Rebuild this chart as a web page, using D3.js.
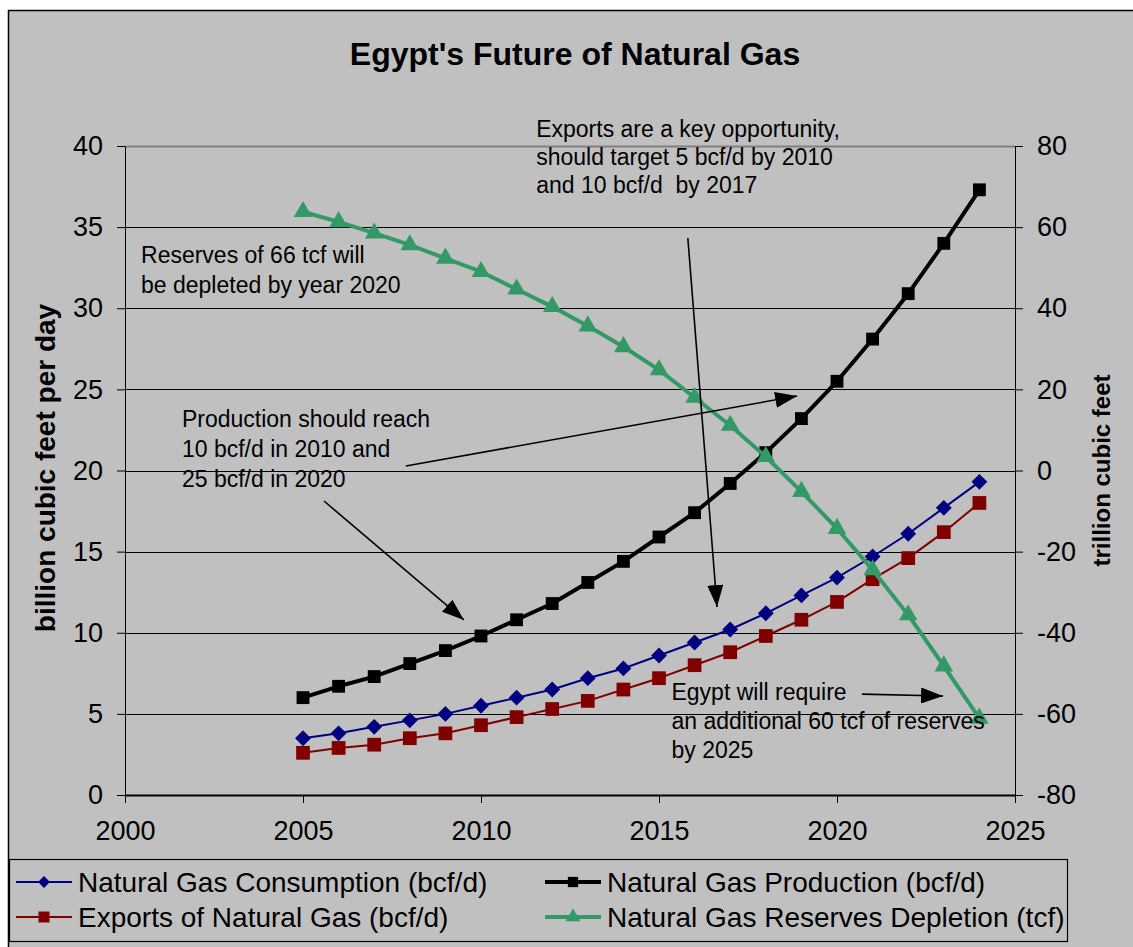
<!DOCTYPE html>
<html>
<head>
<meta charset="utf-8">
<script src="https://cdn.jsdelivr.net/npm/d3@7"></script>
<style>
  html, body { margin: 0; padding: 0; background: #ffffff; }
  svg { display: block; font-family: Arial, "Liberation Sans", sans-serif; }
</style>
</head>
<body>
<svg id="chart" width="1133" height="947"></svg>
<script>
// Years on the horizontal axis
const years = [2005, 2006, 2007, 2008, 2009, 2010, 2011, 2012, 2013, 2014,
               2015, 2016, 2017, 2018, 2019, 2020, 2021, 2022, 2023, 2024];

// Left axis series (bcf/d)
const consumption = [3.5, 3.8, 4.2, 4.6, 5.0, 5.5, 6.0, 6.5, 7.2, 7.8,
                     8.6, 9.4, 10.2, 11.2, 12.3, 13.4, 14.7, 16.1, 17.7, 19.3];
const production  = [6.0, 6.7, 7.3, 8.1, 8.9, 9.8, 10.8, 11.8, 13.1, 14.4,
                     15.9, 17.4, 19.2, 21.1, 23.2, 25.5, 28.1, 30.9, 34.0, 37.3];
const exportsGas  = [2.6, 2.9, 3.1, 3.5, 3.8, 4.3, 4.8, 5.3, 5.8, 6.5,
                     7.2, 8.0, 8.8, 9.8, 10.8, 11.9, 13.3, 14.6, 16.2, 18.0];

// Right axis series (tcf)
const reserves    = [63.8, 61.3, 58.5, 55.6, 52.3, 49.0, 44.7, 40.4, 35.6, 30.5,
                     24.8, 18.0, 11.1, 3.4, -5.2, -14.3, -24.5, -35.6, -48.2, -61.1];

// Tick labels
const xTicks = [2000, 2005, 2010, 2015, 2020, 2025];
const yLeftTicks = [0, 5, 10, 15, 20, 25, 30, 35, 40];
const yRightTicks = [-80, -60, -40, -20, 0, 20, 40, 60, 80];

// Legend names
const seriesNames = [
  "Natural Gas Consumption (bcf/d)",
  "Natural Gas Production (bcf/d)",
  "Exports of Natural Gas (bcf/d)",
  "Natural Gas Reserves Depletion (tcf)"
];

const titleText = "Egypt's Future of Natural Gas";
const leftAxisTitle = "billion cubic feet per day";
const rightAxisTitle = "trillion cubic feet";

// Callouts: first baseline anchored in data space (year, bcf/d)
const notes = [
  { x: 2011.55, y: 40.55, lines: ["Exports are a key opportunity,", "should target 5 bcf/d by 2010", "and 10 bcf/d  by 2017"] },
  { x: 2000.45, y: 32.8,  lines: ["Reserves of 66 tcf will", "be depleted by year 2020"] },
  { x: 2001.6,  y: 22.68, lines: ["Production should reach", "10 bcf/d in 2010 and", "25 bcf/d in 2020"] },
  { x: 2015.35, y: 5.85,  lines: ["Egypt will require", "an additional 60 tcf of reserves", "by 2025"] }
];
// Arrows from tail to tip, in (year, bcf/d)
const arrows = [
  { from: [2015.81, 34.33], to: [2016.63, 11.59] },
  { from: [2007.89, 20.28], to: [2018.88, 24.59] },
  { from: [2005.59, 18.12], to: [2009.52, 10.79] },
  { from: [2020.70, 6.22],  to: [2022.98, 6.10] }
];

const svg = d3.select("#chart");
const W = 1133, H = 947;

// Chart area background and frame
svg.append("rect")
  .attr("x", 8.5).attr("y", 10.5)
  .attr("width", W + 20).attr("height", H + 20)
  .attr("fill", "#c0c0c0")
  .attr("stroke", "#000").attr("stroke-width", 1.5);

const plot = { left: 125, right: 1015, top: 146, bottom: 795 };

const x = d3.scaleLinear().domain([2000, 2025]).range([plot.left, plot.right]);
const yL = d3.scaleLinear().domain([0, 40]).range([plot.bottom, plot.top]);
const yR = d3.scaleLinear().domain([-80, 80]).range([plot.bottom, plot.top]);

// Horizontal gridlines
svg.append("g").selectAll("line")
  .data(yLeftTicks.filter(d => d > 0))
  .join("line")
  .attr("x1", plot.left).attr("x2", plot.right)
  .attr("y1", d => Math.round(yL(d)) + 0.5).attr("y2", d => Math.round(yL(d)) + 0.5)
  .attr("stroke", d => d === 40 ? "#808080" : "#000")
  .attr("stroke-width", d => d === 40 ? 2 : 1);

const tickFont = 27;
const fontStack = "Arial, 'Liberation Sans', sans-serif";
const plain = d => String(d);

// Bottom axis
const xAxis = svg.append("g")
  .attr("transform", `translate(0,${plot.bottom})`)
  .call(d3.axisBottom(x).tickValues(xTicks).tickFormat(plain).tickSize(8).tickSizeOuter(0));
xAxis.select(".domain").attr("stroke", "#000").attr("stroke-width", 2);
xAxis.selectAll(".tick line").attr("stroke", "#000");
xAxis.selectAll(".tick text")
  .attr("font-size", tickFont).attr("fill", "#000")
  .attr("font-family", fontStack)
  .attr("dy", "1.25em");

// Left axis
const leftAxis = svg.append("g")
  .attr("transform", `translate(${plot.left},0)`)
  .call(d3.axisLeft(yL).tickValues(yLeftTicks).tickFormat(plain).tickSize(8).tickSizeOuter(0).tickPadding(14));
leftAxis.select(".domain").attr("stroke", "#000").attr("stroke-width", 1);
leftAxis.selectAll(".tick line").attr("stroke", "#000");
leftAxis.selectAll(".tick text")
  .attr("font-size", tickFont).attr("fill", "#000")
  .attr("font-family", fontStack);

// Right axis (hyphen-minus labels)
const rightAxis = svg.append("g")
  .attr("transform", `translate(${plot.right},0)`)
  .call(d3.axisRight(yR).tickValues(yRightTicks).tickFormat(plain).tickSize(8).tickSizeOuter(0).tickPadding(14));
rightAxis.select(".domain").attr("stroke", "#000").attr("stroke-width", 1);
rightAxis.selectAll(".tick line").attr("stroke", "#000");
rightAxis.selectAll(".tick text")
  .attr("font-size", tickFont).attr("fill", "#000")
  .attr("font-family", fontStack);

// Title
svg.append("text")
  .attr("x", 575).attr("y", 65)
  .attr("text-anchor", "middle")
  .attr("font-size", 32).attr("font-weight", "bold")
  .text(titleText);

// Axis titles
svg.append("text")
  .attr("transform", `translate(55,468) rotate(-90)`)
  .attr("text-anchor", "middle")
  .attr("font-size", 28).attr("font-weight", "bold")
  .text(leftAxisTitle);
svg.append("text")
  .attr("transform", `translate(1110,${(plot.top + plot.bottom) / 2}) rotate(-90)`)
  .attr("text-anchor", "middle")
  .attr("font-size", 24).attr("font-weight", "bold")
  .text(rightAxisTitle);

// Marker shapes
const markerPath = {
  diamond: d3.symbol().type(d3.symbolDiamond2).size(160)(),
  squareBig: d3.symbol().type(d3.symbolSquare2).size(240)(),
  squareMid: d3.symbol().type(d3.symbolSquare2).size(210)(),
  triangle: d3.symbol().type(d3.symbolTriangle).size(150)()
};

const series = [
  { name: seriesNames[0], values: consumption, y: yL, color: "#000080", width: 2, marker: "diamond" },
  { name: seriesNames[2], values: exportsGas,  y: yL, color: "#800000", width: 2, marker: "squareBig" },
  { name: seriesNames[1], values: production,  y: yL, color: "#000000", width: 4, marker: "squareMid" },
  { name: seriesNames[3], values: reserves,    y: yR, color: "#339966", width: 4, marker: "triangle" }
];

series.forEach(s => {
  const pts = years.map((yr, i) => [yr, s.values[i]]);
  const line = d3.line().x(d => x(d[0])).y(d => s.y(d[1]));
  const g = svg.append("g");
  g.append("path")
    .attr("d", line(pts))
    .attr("fill", "none")
    .attr("stroke", s.color)
    .attr("stroke-width", s.width)
    .attr("stroke-linejoin", "round");
  g.selectAll("path.m")
    .data(pts)
    .join("path")
    .attr("class", "m")
    .attr("transform", d => `translate(${x(d[0])},${s.y(d[1])})`)
    .attr("d", markerPath[s.marker])
    .attr("fill", s.color);
});

// Callout arrows
const defs = svg.append("defs");
defs.append("marker")
  .attr("id", "head")
  .attr("viewBox", "0 0 22 16")
  .attr("refX", 22).attr("refY", 8)
  .attr("markerWidth", 22).attr("markerHeight", 16)
  .attr("markerUnits", "userSpaceOnUse")
  .attr("orient", "auto")
  .append("path")
  .attr("d", "M0,0 L22,8 L0,16 Z")
  .attr("fill", "#000");

svg.append("g").selectAll("line")
  .data(arrows)
  .join("line")
  .attr("x1", d => x(d.from[0])).attr("y1", d => yL(d.from[1]))
  .attr("x2", d => x(d.to[0])).attr("y2", d => yL(d.to[1]))
  .attr("stroke", "#000").attr("stroke-width", 1.6)
  .attr("marker-end", "url(#head)");

// Callout text
const lineGaps = [28, 30, 30, 29];
const noteG = svg.append("g").attr("font-size", 23).attr("fill", "#000");
notes.forEach((n, k) => {
  const t = noteG.append("text")
    .attr("x", x(n.x)).attr("y", yL(n.y));
  n.lines.forEach((ln, i) => {
    t.append("tspan")
      .attr("x", x(n.x))
      .attr("dy", i === 0 ? 0 : lineGaps[k])
      .style("white-space", "pre")
      .text(ln);
  });
});

// Legend
const legend = svg.append("g");
legend.append("rect")
  .attr("x", 9.5).attr("y", 859.5)
  .attr("width", 1058).attr("height", 82)
  .attr("fill", "#c0c0c0")
  .attr("stroke", "#000").attr("stroke-width", 1.2);

// legend order: consumption, production / exports, reserves
const legendOrder = [series[0], series[2], series[1], series[3]];
const legendSlots = [[16, 882], [545, 882], [16, 917], [545, 917]];
legendOrder.forEach((s, i) => {
  const [lx, ly] = legendSlots[i];
  const g = legend.append("g").attr("transform", `translate(${lx},${ly})`);
  g.append("line")
    .attr("x1", 0).attr("x2", 56).attr("y1", 0).attr("y2", 0)
    .attr("stroke", s.color).attr("stroke-width", s.width);
  const sc = s.marker === "diamond" ? 0.75 : 0.8;
  g.append("path")
    .attr("transform", `translate(28,0) scale(${sc})`)
    .attr("d", markerPath[s.marker])
    .attr("fill", s.color);
  g.append("text")
    .attr("x", 62).attr("y", 10)
    .attr("font-size", 28)
    .text(s.name);
});
</script>
</body>
</html>
